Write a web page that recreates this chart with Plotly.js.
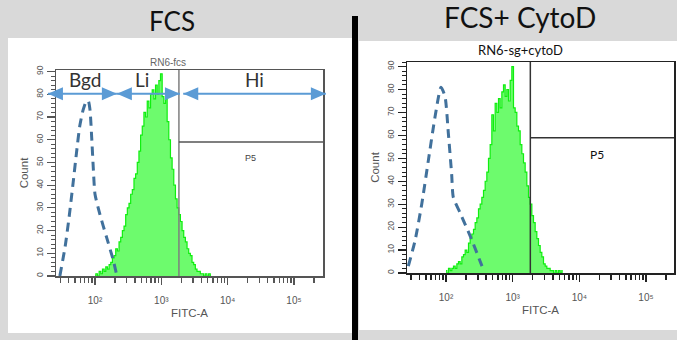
<!DOCTYPE html>
<html><head><meta charset="utf-8">
<script src="https://cdn.plot.ly/plotly-3.0.1.min.js"></script>
<style>html,body{margin:0;padding:0;background:#d9d9d9;overflow:hidden}#chart{width:677px;height:340px;}</style>
</head><body><div id="chart"></div>
<script>
// ---- data (x values are log10 of FITC-A intensity) ----
const binLog = [2.000,2.025,2.050,2.075,2.100,2.125,2.150,2.175,2.200,2.225,
  2.250,2.275,2.300,2.325,2.350,2.375,2.400,2.425,2.450,2.475,
  2.500,2.525,2.550,2.575,2.600,2.625,2.650,2.675,2.700,2.725,
  2.750,2.775,2.800,2.825,2.850,2.875,2.900,2.925,2.950,2.975,
  3.000,3.025,3.050,3.075,3.100,3.125,3.150,3.175,3.200,3.225,
  3.250,3.275,3.300,3.325,3.350,3.375,3.400,3.425,3.450,3.475,
  3.500,3.525,3.550,3.575,3.600,3.625,3.650,3.675,3.700,3.725,3.750];
const fcsCounts = [0,1,0,2,1,3,2,4,3,5,
  6,8,9,12,11,15,17,20,22,27,
  30,32,36,38,43,45,50,55,62,66,
  72,70,77,74,80,82,78,84,80,86,
  89,79,76,78,68,60,52,47,40,34,
  30,27,24,20,17,15,12,10,9,6,
  5,3,2,2,1,1,0,1,0,1,0];
const cytoCounts = [1,0,2,1,2,3,2,4,5,4,
  7,8,10,9,13,15,17,19,22,24,
  28,30,33,36,40,44,50,56,69,62,
  74,70,76,72,79,82,77,80,75,84,
  90,72,70,64,62,56,52,48,44,38,
  33,30,25,22,18,15,12,9,7,4,
  3,2,2,1,1,0,1,0,1,0,1];
const bgdFcsLog = [1.47,1.55,1.61,1.67,1.72,1.77,1.82,1.87,1.90,1.925,1.95,1.975,2.00,2.075,2.175,2.275,2.33];
const bgdFcsCounts = [0,13,26,41,54,66,73,77,77,73,61,47,36,27,17,7,0];
const bgdCytoLog = [1.435,1.535,1.636,1.735,1.835,1.925,1.985,2.035,2.085,2.11,2.215,2.365,2.54];
const bgdCytoCounts = [3,14,30,49,68,81,77,61,43,33,26,16,3];

const decadeTickVals = [2,3,4,5];
const decadeTickText = ['10\u00B2','10\u00B3','10\u2074','10\u2075'];
const countTickVals = [0,10,20,30,40,50,60,70,80,90];
const gateLog = 3.265;
const p5Count = 59;
const panelTitles = ['FCS','FCS+ CytoD'];
const sampleNames = ['RN6-fcs','RN6-sg+cytoD'];
const rangeLabels = ['Bgd','Li','Hi'];
const rangeStart = [1.29,2.33,3.33];
const rangeEnd = [2.33,3.28,5.48];
const rangeLabelX = [1.85,2.71,4.41];
const rangeArrowCount = 80.2;
const rangeLabelCount = 86.3;

// ---- layout helpers ----
const W = 677, H = 340;
const px = v => v / W, py = v => 1 - v / H;
const xr1 = [1.412,5.437], yr1 = [0,90.7];
const xr2 = [1.415,5.42], yr2 = [0,92];
// fraction of the left subplot's axes (for decorations that may poke past the frame)
const fx1 = v => (v - xr1[0]) / (xr1[1] - xr1[0]);
const fy1 = c => (c - yr1[0]) / (yr1[1] - yr1[0]);

function minorDecades(r){
  const out = [];
  for (let n = 1; n <= 5; n++) for (let k = 2; k <= 9; k++){
    const v = n + Math.log10(k);
    if (v > r[0] && v < r[1]) out.push(v);
  }
  return out;
}

const axisFont = {family:'Liberation Sans, DejaVu Sans, Arial, sans-serif', size:10, color:'#555'};
function xAxis(dom, rng, lc){
  return {domain:dom, range:rng, type:'linear', showgrid:false, zeroline:false,
    showline:true, linecolor:lc, linewidth:1.5, mirror:true,
    ticks:'outside', tickvals:decadeTickVals, ticktext:decadeTickText, ticklen:7, tickwidth:1.5, tickcolor:lc,
    minor:{ticks:'outside', tickmode:'array', tickvals:minorDecades(rng), ticklen:5, tickwidth:1.5, tickcolor:lc},
    tickfont:axisFont, ticklabelstandoff:7,
    title:{text:'FITC-A', font:{family:'Liberation Sans, Arial, sans-serif', size:11.5, color:'#555'}, standoff:4}};
}
function yAxis(dom, rng, lc){
  return {domain:dom, range:rng, showgrid:false, zeroline:false,
    showline:true, linecolor:lc, linewidth:1.5, mirror:true,
    ticks:'outside', tickvals:countTickVals, ticklen:8, tickwidth:1.2, tickcolor:lc,
    minor:{ticks:'outside', dtick:2, tick0:0, ticklen:4, tickwidth:1, tickcolor:lc},
    tickangle:-90, tickfont:{family:'Liberation Sans, Arial, sans-serif', size:8.5, color:'#555'},
    title:{text:'Count', font:{family:'Liberation Sans, Arial, sans-serif', size:11.5, color:'#555'}, standoff:4}};
}

const green = {mode:'lines', line:{shape:'hvh', color:'#10ee10', width:1.2}, fill:'tozeroy', fillcolor:'#6dfb6d', hoverinfo:'skip'};
const dashed = {mode:'lines', line:{shape:'spline', smoothing:0.6, color:'#41719c', width:3, dash:'9px,6px'}, hoverinfo:'skip'};

const data = [
  Object.assign({x:binLog, y:fcsCounts, xaxis:'x', yaxis:'y', name:'FCS'}, green),
  Object.assign({x:bgdFcsLog, y:bgdFcsCounts, xaxis:'x', yaxis:'y', name:'Bgd'}, dashed),
  Object.assign({x:binLog, y:cytoCounts, xaxis:'x2', yaxis:'y2', name:'FCS+ CytoD'}, green),
  Object.assign({x:bgdCytoLog, y:bgdCytoCounts, xaxis:'x2', yaxis:'y2', name:'Bgd'}, dashed)
];

const shapes = [
  {type:'rect', xref:'paper', yref:'paper', x0:px(8), x1:px(352), y0:py(333), y1:py(38), fillcolor:'#ffffff', line:{width:0}, layer:'below'},
  {type:'rect', xref:'paper', yref:'paper', x0:px(359), x1:1, y0:py(330), y1:py(41), fillcolor:'#ffffff', line:{width:0}, layer:'below'},
  {type:'line', xref:'paper', yref:'paper', x0:px(355), x1:px(355), y0:py(16), y1:0, line:{color:'#000', width:6}},
  // gates
  {type:'line', xref:'x', yref:'y', x0:gateLog, x1:gateLog, y0:0, y1:yr1[1], line:{color:'#7f7f7f', width:1.5}},
  {type:'line', xref:'x', yref:'y', x0:gateLog, x1:xr1[1], y0:p5Count, y1:p5Count, line:{color:'#555', width:1.5}},
  {type:'line', xref:'x2', yref:'y2', x0:gateLog, x1:gateLog, y0:0, y1:yr2[1], line:{color:'#333', width:1.5}},
  {type:'line', xref:'x2', yref:'y2', x0:gateLog, x1:xr2[1], y0:p5Count, y1:p5Count, line:{color:'#333', width:1.5}}
];
// Bgd / Li / Hi double-headed range arrows
const arrowColor = '#5b9bd5';
rangeLabels.forEach((t,i) => {
  const a = fx1(rangeStart[i]), b = fx1(rangeEnd[i]), yy = fy1(rangeArrowCount);
  shapes.push({type:'line', xref:'x domain', yref:'y domain', x0:a, x1:b, y0:yy, y1:yy, line:{color:arrowColor, width:2}});
  shapes.push({type:'path', xref:'x domain', yref:'y domain', xsizemode:'pixel', ysizemode:'pixel', xanchor:a, yanchor:yy,
    path:'M0,0 L15,6.5 L15,-6.5 Z', fillcolor:arrowColor, line:{width:0}});
  shapes.push({type:'path', xref:'x domain', yref:'y domain', xsizemode:'pixel', ysizemode:'pixel', xanchor:b, yanchor:yy,
    path:'M0,0 L-15,6.5 L-15,-6.5 Z', fillcolor:arrowColor, line:{width:0}});
});

const annotations = [
  {xref:'paper', yref:'paper', x:px(172), y:py(21), xanchor:'center', yanchor:'middle', text:panelTitles[0], showarrow:false, font:{family:'Lato, sans-serif', size:26, color:'#111'}},
  {xref:'paper', yref:'paper', x:px(520), y:py(17), xanchor:'center', yanchor:'middle', text:panelTitles[1], showarrow:false, font:{family:'Lato, sans-serif', size:28, color:'#111'}},
  {xref:'paper', yref:'paper', x:px(168), y:py(62), xanchor:'center', yanchor:'middle', text:sampleNames[0], showarrow:false, font:{family:'Liberation Sans, Arial, sans-serif', size:10, color:'#666'}},
  {xref:'paper', yref:'paper', x:px(520), y:py(50), xanchor:'center', yanchor:'middle', text:sampleNames[1], showarrow:false, font:{family:'Lato, sans-serif', size:13, color:'#111'}},
  {xref:'x', yref:'y', x:4.35, y:52, xanchor:'center', yanchor:'middle', text:'P5', showarrow:false, font:{family:'Liberation Sans, Arial, sans-serif', size:9, color:'#444'}},
  {xref:'x2', yref:'y2', x:4.26, y:51.5, xanchor:'center', yanchor:'middle', text:'P5', showarrow:false, font:{family:'Lato, sans-serif', size:12, color:'#111'}}
];
rangeLabels.forEach((t,i) => {
  annotations.push({xref:'x', yref:'y', x:rangeLabelX[i], y:rangeLabelCount, xanchor:'center', yanchor:'middle', text:t, showarrow:false,
    font:{family:'Lato, sans-serif', size:19, color:'#333'}});
});

const layout = {
  width:W, height:H, margin:{l:0,r:0,t:0,b:0},
  paper_bgcolor:'#d9d9d9', plot_bgcolor:'#ffffff', showlegend:false,
  xaxis:xAxis([px(56),px(323)], xr1, '#555'),
  yaxis:yAxis([py(276),py(70)], yr1, '#555'),
  xaxis2:xAxis([px(407),px(674)], xr2, '#222'),
  yaxis2:yAxis([py(273),py(62)], yr2, '#222'),
  shapes:shapes, annotations:annotations
};
layout.xaxis.anchor='y'; layout.yaxis.anchor='x';
layout.xaxis2.anchor='y2'; layout.yaxis2.anchor='x2';

Plotly.newPlot('chart', data, layout, {staticPlot:true, displayModeBar:false});
</script></body></html>
